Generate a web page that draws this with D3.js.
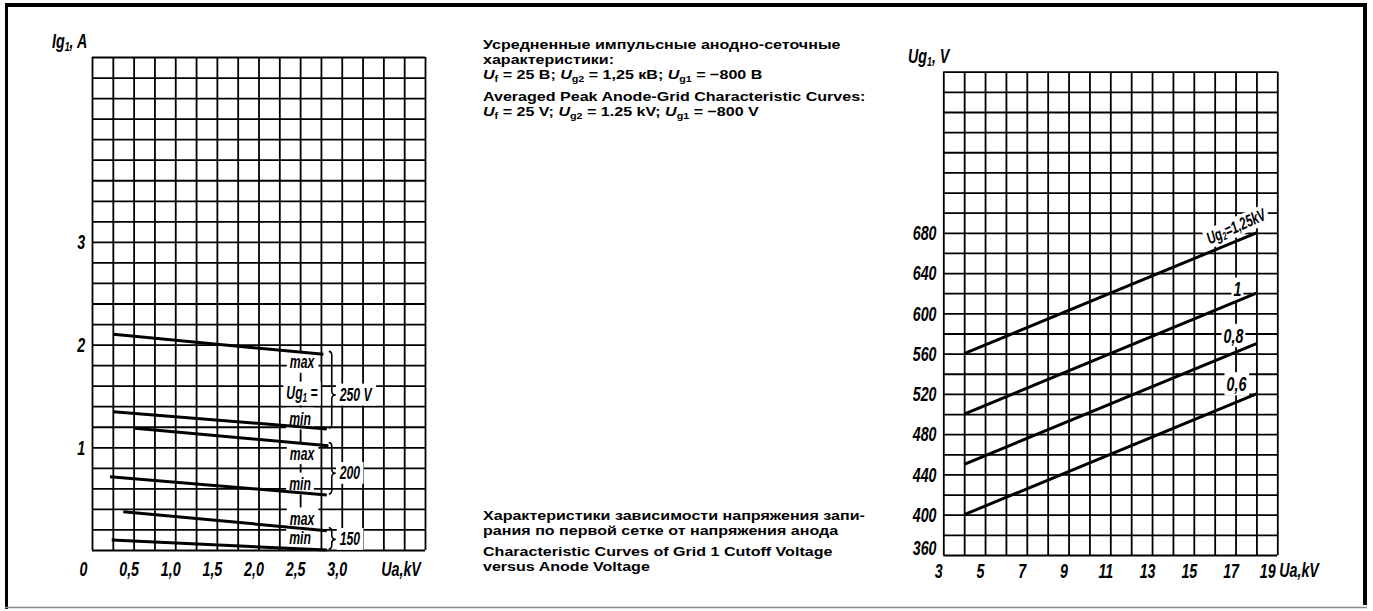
<!DOCTYPE html>
<html><head><meta charset="utf-8">
<script src="https://cdn.jsdelivr.net/npm/d3@7"></script>
<style>
html,body{margin:0;padding:0;background:#fff;}
svg{display:block;}
</style></head><body>
<svg id="c" width="1373" height="611"></svg>
<script>
// ---------- Left chart: averaged peak anode-grid characteristics ----------
const leftXTicks = [0, 0.5, 1.0, 1.5, 2.0, 2.5, 3.0];
const leftXTickLabels = ["0", "0,5", "1,0", "1,5", "2,0", "2,5", "3,0"];
const leftYTicks = [1, 2, 3];
const leftCurveKinds = ["max", "min", "max", "min", "max", "min"];
const leftCurveUa = [[0.256, 2.78], [0.256, 2.82], [0.517, 2.84], [0.216, 2.82], [0.376, 2.82], [0.237, 2.82]];
const leftCurveIg = [[2.10, 1.905], [1.347, 1.178], [1.185, 1.016], [0.714, 0.536], [0.373, 0.188], [0.097, 0.0]];
const leftGroupUg1 = ["250 V", "200", "150"];

// ---------- Right chart: grid 1 cutoff voltage vs anode voltage ----------
const rightXTicks = [3, 5, 7, 9, 11, 13, 15, 17, 19];
const rightYTicks = [360, 400, 440, 480, 520, 560, 600, 640, 680];
const rightCurveLabels = ["Ug₂=1,25kV", "1", "0,8", "0,6"];
const rightCurveUa = [[4, 18], [4, 18], [4, 18], [4, 18]];
const rightCurveUg1 = [[560, 680], [500, 620], [450, 570], [400, 520]];

// ---------- Captions ----------
const captionTop = [
  "Усредненные импульсные анодно-сеточные",
  "характеристики:",
  "U_{f} = 25 В; U_{g2} = 1,25 кВ; U_{g1} = −800 В",
  "Averaged Peak Anode-Grid Characteristic Curves:",
  "U_{f} = 25 V; U_{g2} = 1.25 kV; U_{g1} = −800 V"
];
const captionBottom = [
  "Характеристики зависимости напряжения запи-",
  "рания по первой сетке от напряжения анода",
  "Characteristic Curves of Grid 1 Cutoff Voltage",
  "versus Anode Voltage"
];

const HAND = '"Liberation Sans",Arial,sans-serif';
const SANS = '"Liberation Sans",Arial,Helvetica,sans-serif';
const S = 0.68; // horizontal condensing of the hand lettering
const svg = d3.select("#c");

// frame
svg.append("line").attr("x1", 5).attr("x2", 1367).attr("y1", 5).attr("y2", 5).attr("stroke", "#000").attr("stroke-width", 4);
svg.append("line").attr("x1", 6.5).attr("x2", 6.5).attr("y1", 3).attr("y2", 609).attr("stroke", "#000").attr("stroke-width", 3);
svg.append("line").attr("x1", 1365).attr("x2", 1365).attr("y1", 3).attr("y2", 605).attr("stroke", "#000").attr("stroke-width", 4);
svg.append("line").attr("x1", 5).attr("x2", 1367).attr("y1", 607.5).attr("y2", 607.5).attr("stroke", "#888").attr("stroke-width", 1.5);

function drawGrid(g, x, y, xs, ys) {
  const [x0, x1] = x.range(), [y0, y1] = y.range();
  g.append("g").attr("transform", `translate(0,${y0})`)
    .call(d3.axisBottom(x).tickValues(xs).tickSize(-(y0 - y1)).tickFormat(""))
    .call(a => a.select(".domain").remove())
    .selectAll("line").attr("stroke", "#000").attr("stroke-width", 1.8);
  g.append("g").attr("transform", `translate(${x0},0)`)
    .call(d3.axisLeft(y).tickValues(ys).tickSize(-(x1 - x0)).tickFormat(""))
    .call(a => a.select(".domain").remove())
    .selectAll("line").attr("stroke", "#000").attr("stroke-width", 1.8);
}

function styleHand(sel, size) {
  return sel.attr("font-family", HAND).attr("font-style", "italic").attr("font-weight", "bold")
    .attr("font-size", size).attr("fill", "#000");
}

// condensed hand-lettered text positioned at (x,y)
function htext(parent, x, y, size, anchor, rot) {
  const t = parent.append("text").attr("x", 0).attr("y", 0)
    .attr("text-anchor", anchor || "start")
    .attr("transform", `translate(${x},${y})${rot ? ` rotate(${rot})` : ""} scale(${S},1)`);
  styleHand(t, size);
  return t;
}

function mask(g, textSel, padX, padY) {
  textSel.each(function () {
    const b = this.getBBox();
    const t = this.getAttribute("transform");
    g.append("rect")
      .attr("x", b.x - padX / S).attr("y", b.y - padY)
      .attr("width", b.width + 2 * padX / S).attr("height", b.height + 2 * padY)
      .attr("transform", t).attr("fill", "#fff");
  });
}

function brace(x, y1, y2, tip, w) {
  const p = d3.path();
  p.moveTo(x - 3, y1);
  p.quadraticCurveTo(x, y1, x, y1 + 4);
  p.lineTo(x, tip - 4);
  p.quadraticCurveTo(x, tip, x + w, tip);
  p.quadraticCurveTo(x, tip, x, tip + 4);
  p.lineTo(x, y2 - 4);
  p.quadraticCurveTo(x, y2, x - 3, y2);
  return p.toString();
}

function condenseAxis(axisG, size, dxFn) {
  axisG.attr("font-family", null).attr("font-size", null);
  const t = axisG.selectAll("text");
  styleHand(t, size);
  t.attr("transform", `scale(${S},1)`);
  if (dxFn) t.attr("dx", (d, i) => dxFn(d, i) / S);
  return t;
}

const line = (x, y) => d3.line().x(d => x(d[0])).y(d => y(d[1]));

// ============ LEFT CHART ============
const lx = d3.scaleLinear().domain([0, 4]).range([92, 425]);
const ly = d3.scaleLinear().domain([0, 4.8]).range([550, 57]);
const left = svg.append("g");
drawGrid(left, lx, ly, d3.range(0, 4.0001, 0.25), d3.range(0, 4.8001, 0.2));

const leftMaskG = left.append("g");
const leftCurveG = left.append("g");
const leftTextG = left.append("g");

leftCurveUa.forEach((ua, i) => {
  const pts = ua.map((u, j) => [u, leftCurveIg[i][j]]);
  leftCurveG.append("path").attr("d", line(lx, ly)(pts))
    .attr("fill", "none").attr("stroke", "#000").attr("stroke-width", 3);
});

// max/min labels
const kindDy = [14, -4, 14, -5, -6, -6];
const kindX = { max: 302, min: 300 };
leftCurveKinds.forEach((k, i) => {
  htext(leftTextG, kindX[k], ly(leftCurveIg[i][1]) + kindDy[i], 18, "middle").text(k);
});

// Ug1 = label
const ugText = htext(leftTextG, 302, 399, 18, "middle");
ugText.append("tspan").text("Ug");
ugText.append("tspan").attr("font-size", 12).attr("dy", 3).text("1");
ugText.append("tspan").attr("dy", -3).text(" =");

// braces
const braceX = lx(2.88);
const braceTips = [];
[0, 2, 4].forEach((ci, k) => {
  const y1 = ly(leftCurveIg[ci][1]) - 3;
  const y2 = ly(leftCurveIg[ci + 1][1]) - 1;
  const tip = k === 0 ? 395 : (y1 + y2) / 2 + (k === 1 ? 5 : 1);
  braceTips.push(tip);
  leftTextG.append("path").attr("d", brace(braceX, y1, y2, tip, 4))
    .attr("fill", "none").attr("stroke", "#000").attr("stroke-width", 1.6);
});
leftGroupUg1.forEach((g, i) => {
  htext(leftTextG, braceX + 8, braceTips[i] + 6, 18, "start").text(g);
});

mask(leftMaskG, leftTextG.selectAll("text"), 3, 1);

// axes labels
const lxAxis = left.append("g").attr("transform", `translate(0,550)`)
  .call(d3.axisBottom(lx).tickValues(leftXTicks).tickFormat((d, i) => leftXTickLabels[i]).tickSize(0))
  .call(a => a.select(".domain").remove());
condenseAxis(lxAxis, 21, (d, i) => i === 0 ? -9 : -5).attr("dy", null).attr("y", 26);

const lyAxis = left.append("g").attr("transform", `translate(92,0)`)
  .call(d3.axisLeft(ly).tickValues(leftYTicks).tickFormat(d3.format("d")).tickSize(0).tickPadding(10))
  .call(a => a.select(".domain").remove());
condenseAxis(lyAxis, 21);

htext(left, 401, 576, 21, "middle").text("Ua,kV");
const lYTitle = htext(left, 52, 48, 21, "start");
lYTitle.append("tspan").text("Ig");
lYTitle.append("tspan").attr("font-size", 13).attr("dy", 3).text("1");
lYTitle.append("tspan").attr("dy", -3).text(", A");

// ============ RIGHT CHART ============
const rx = d3.scaleLinear().domain([3, 19]).range([943.3, 1277.3]);
const ry = d3.scaleLinear().domain([360, 840]).range([555, 71.7]);
const right = svg.append("g");
drawGrid(right, rx, ry, d3.range(3, 19.001, 1), d3.range(360, 840.001, 20));
const rightMaskG = right.append("g");
const rightCurveG = right.append("g");
const rightTextG = right.append("g");

rightCurveUa.forEach((ua, i) => {
  const pts = ua.map((u, j) => [u, rightCurveUg1[i][j]]);
  rightCurveG.append("path").attr("d", line(rx, ry)(pts))
    .attr("fill", "none").attr("stroke", "#000").attr("stroke-width", 3);
});

// curve labels
rightCurveLabels.forEach((lab, i) => {
  const ex = rx(rightCurveUa[i][1]), ey = ry(rightCurveUg1[i][1]);
  if (i === 0) {
    const t = htext(rightTextG, ex - 18, ey - 1, 17, "middle", -24);
    t.append("tspan").text("Ug");
    t.append("tspan").attr("font-size", 11).attr("dy", 2).text("2");
    t.append("tspan").attr("dy", -2).text("=1,25kV");
  } else {
    const dxs = [0, -19, -23, -20];
    const dys = [0, 3, -1, -3];
    htext(rightTextG, ex + dxs[i], ey + dys[i], 21, "middle").text(lab);
  }
});
mask(rightMaskG, rightTextG.selectAll("text"), 2, 0);

const rxAxis = right.append("g").attr("transform", `translate(0,555)`)
  .call(d3.axisBottom(rx).tickValues(rightXTicks).tickSize(0))
  .call(a => a.select(".domain").remove());
condenseAxis(rxAxis, 21, d => d === 19 ? -10 : -5).attr("dy", null).attr("y", 23);

const ryAxis = right.append("g").attr("transform", `translate(943.3,0)`)
  .call(d3.axisLeft(ry).tickValues(rightYTicks).tickSize(0).tickPadding(10))
  .call(a => a.select(".domain").remove());
condenseAxis(ryAxis, 21).attr("y", d => d === 360 ? -7 : 0);

htext(right, 1299, 577, 21, "middle").text("Ua,kV");
const rYTitle = htext(right, 908, 63, 21, "start");
rYTitle.append("tspan").text("Ug");
rYTitle.append("tspan").attr("font-size", 13).attr("dy", 3).text("1");
rYTitle.append("tspan").attr("dy", -3).text(", V");

// ============ CAPTIONS ============
const capG = svg.append("g").attr("transform", "translate(483,0) scale(1.19,1)");
function caption(lines, baselines) {
  lines.forEach((s, i) => {
    const t = capG.append("text").attr("x", 0).attr("y", baselines[i])
      .attr("font-family", SANS).attr("font-weight", "bold").attr("font-size", 13.5).attr("fill", "#000");
    const parts = s.split(/(U_\{[^}]+\})/).filter(p => p.length);
    let shifted = false;
    parts.forEach(p => {
      const m = p.match(/^U_\{([^}]+)\}$/);
      if (m) {
        t.append("tspan").attr("font-style", "italic").attr("dy", shifted ? -3 : null).text("U");
        t.append("tspan").attr("font-size", 9).attr("dy", 3).text(m[1]);
        shifted = true;
      } else {
        t.append("tspan").attr("dy", shifted ? -3 : null).text(p);
        shifted = false;
      }
    });
  });
}
caption(captionTop, [49, 64, 79, 101.5, 116.5]);
caption(captionBottom, [520, 535, 556.5, 571.5]);
</script>
</body></html>
